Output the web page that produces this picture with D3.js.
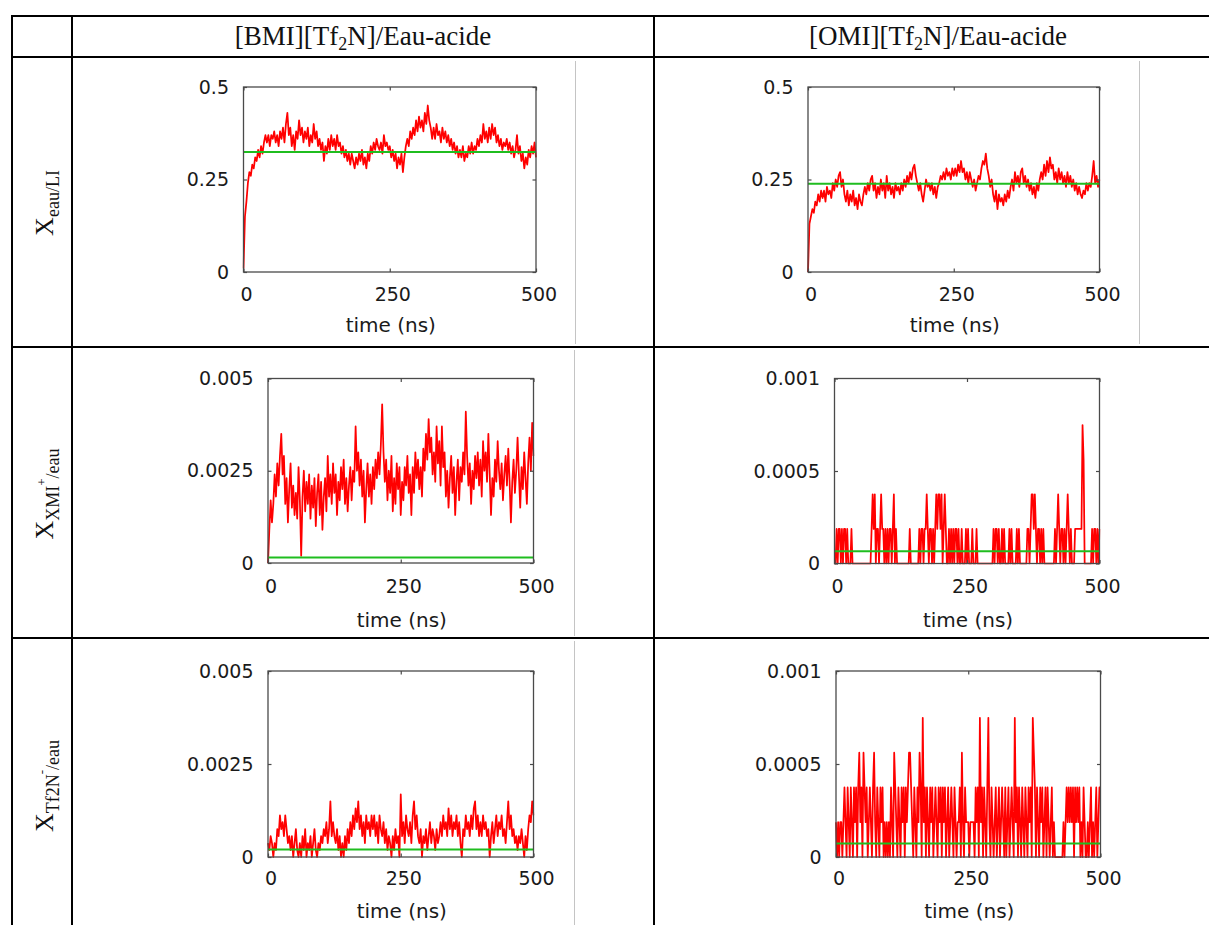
<!DOCTYPE html>
<html><head><meta charset="utf-8">
<script src="https://cdn.jsdelivr.net/npm/d3@7"></script>
<style>html,body{margin:0;padding:0;background:#fff}svg{display:block}</style>
</head><body>
<svg id="c" width="1209" height="925"></svg>
<script>
// ---------- DATA ----------
const columnHeaders = [["[BMI][Tf","2","N]/Eau-acide"],["[OMI][Tf","2","N]/Eau-acide"]];
const rowLabels = [
  [["X","main"],["eau/LI","sub"]],
  [["X","main"],["XMI","sub"],["+","sup"],["/eau","sub"]],
  [["X","main"],["Tf2N","sub"],["-","sup"],["/eau","sub"]]
];
const xTicks = [0,250,500];
const xTickLabels = ["0","250","500"];
const yTicksWater = [0,0.25,0.5];
const yTickLabelsWater = ["0","0.25","0.5"];
const yTicksBMIion = [0,0.0025,0.005];
const yTickLabelsBMIion = ["0","0.0025","0.005"];
const yTicksOMIion = [0,0.0005,0.001];
const yTickLabelsOMIion = ["0","0.0005","0.001"];
const axisTitle = "time (ns)";
const timeMax = 500;

// mean values (green lines)
const meanValues = [0.324, 0.2386, 0.00015, 0.000066, 0.0002, 0.000072];

// X eau/LI, [BMI][Tf2N] (sampled every 2.5 ns)
const bmiWaterLI = [0.01,0.15,0.19,0.24,0.27,0.26,0.29,0.28,0.31,0.30,
0.33,0.31,0.34,0.32,0.35,0.37,0.35,0.37,0.34,0.37,
0.36,0.38,0.35,0.37,0.34,0.38,0.36,0.39,0.35,0.40,
0.43,0.37,0.39,0.34,0.37,0.33,0.38,0.36,0.41,0.37,
0.39,0.35,0.38,0.36,0.39,0.34,0.37,0.35,0.40,0.36,
0.38,0.34,0.36,0.33,0.35,0.30,0.34,0.32,0.36,0.33,
0.37,0.34,0.36,0.33,0.37,0.34,0.35,0.32,0.34,0.31,
0.33,0.30,0.32,0.29,0.32,0.30,0.28,0.31,0.29,0.32,
0.30,0.33,0.29,0.31,0.28,0.32,0.30,0.34,0.32,0.35,
0.33,0.36,0.34,0.33,0.35,0.32,0.37,0.34,0.35,0.33,
0.34,0.31,0.33,0.30,0.32,0.28,0.31,0.29,0.32,0.27,
0.31,0.34,0.36,0.34,0.38,0.36,0.39,0.37,0.41,0.38,
0.42,0.39,0.41,0.38,0.43,0.40,0.45,0.41,0.39,0.36,
0.39,0.36,0.40,0.37,0.38,0.35,0.39,0.36,0.38,0.35,
0.37,0.34,0.36,0.33,0.35,0.32,0.34,0.31,0.33,0.31,
0.34,0.30,0.32,0.31,0.34,0.32,0.35,0.32,0.34,0.33,
0.36,0.34,0.37,0.35,0.40,0.36,0.38,0.35,0.39,0.36,
0.40,0.37,0.39,0.35,0.37,0.34,0.36,0.33,0.35,0.34,
0.36,0.33,0.35,0.32,0.34,0.31,0.33,0.37,0.32,0.34,
0.30,0.32,0.28,0.31,0.29,0.33,0.31,0.34,0.32,0.35,
0.31];

// X eau/LI, [OMI][Tf2N] (every 2.5 ns)
const omiWaterLI = [0.00,0.13,0.15,0.17,0.16,0.19,0.18,0.21,0.19,0.22,
0.20,0.22,0.19,0.23,0.21,0.22,0.20,0.24,0.22,0.25,
0.23,0.26,0.27,0.23,0.25,0.21,0.19,0.22,0.18,0.21,
0.19,0.22,0.18,0.20,0.17,0.21,0.19,0.18,0.21,0.23,
0.21,0.24,0.22,0.25,0.26,0.22,0.24,0.20,0.23,0.21,
0.25,0.22,0.24,0.20,0.26,0.22,0.24,0.21,0.23,0.20,
0.24,0.22,0.23,0.21,0.24,0.22,0.25,0.23,0.26,0.24,
0.27,0.25,0.28,0.29,0.26,0.24,0.22,0.24,0.21,0.19,
0.22,0.25,0.23,0.24,0.22,0.24,0.21,0.23,0.20,0.23,
0.24,0.26,0.25,0.27,0.25,0.28,0.26,0.27,0.25,0.28,
0.26,0.28,0.26,0.29,0.27,0.30,0.27,0.28,0.25,0.27,
0.24,0.27,0.25,0.23,0.25,0.22,0.24,0.26,0.25,0.28,
0.30,0.29,0.32,0.28,0.26,0.23,0.25,0.21,0.19,0.22,
0.17,0.21,0.19,0.20,0.18,0.21,0.19,0.22,0.20,0.23,
0.25,0.22,0.27,0.24,0.26,0.23,0.27,0.28,0.24,0.26,
0.23,0.25,0.22,0.24,0.21,0.23,0.20,0.24,0.22,0.25,
0.27,0.25,0.29,0.26,0.30,0.27,0.31,0.28,0.29,0.25,
0.27,0.24,0.28,0.25,0.27,0.24,0.26,0.23,0.27,0.24,
0.26,0.23,0.25,0.22,0.24,0.21,0.23,0.21,0.20,0.22,
0.21,0.24,0.22,0.24,0.23,0.26,0.30,0.24,0.26,0.23,
0.25];

// X XMI+/eau, [BMI][Tf2N] (every 2.5 ns)
const bmiCationWater = [0,0.0009,0.0017,0.0011,0.0016,0.0024,0.0018,0.0027,0.0021,0.0029,
0.0035,0.0024,0.0029,0.0016,0.0023,0.0011,0.0020,0.0027,0.0015,0.0021,
0.0013,0.0019,0.0012,0.0026,0.0017,0.0002,0.0018,0.0025,0.0014,0.0022,
0.0016,0.0024,0.0012,0.0021,0.0015,0.0023,0.0010,0.0019,0.0024,0.0013,
0.0022,0.0009,0.0018,0.0023,0.0014,0.0029,0.0018,0.0024,0.0016,0.0027,
0.0019,0.0024,0.0013,0.0022,0.0017,0.0026,0.0020,0.0028,0.0016,0.0023,
0.0014,0.0021,0.0026,0.0017,0.0025,0.0022,0.0037,0.0025,0.0030,0.0021,
0.0028,0.0018,0.0025,0.0011,0.0020,0.0027,0.0018,0.0024,0.0016,0.0026,
0.0020,0.0028,0.0023,0.0030,0.0024,0.0032,0.0043,0.0030,0.0022,0.0028,
0.0017,0.0025,0.0019,0.0029,0.0014,0.0023,0.0016,0.0027,0.0020,0.0026,
0.0013,0.0022,0.0017,0.0026,0.0021,0.0029,0.0019,0.0024,0.0013,0.0026,
0.0019,0.0030,0.0023,0.0028,0.0020,0.0026,0.0018,0.0031,0.0025,0.0035,
0.0028,0.0039,0.0030,0.0034,0.0024,0.0030,0.0022,0.0037,0.0027,0.0033,
0.0021,0.0037,0.0026,0.0030,0.0018,0.0025,0.0015,0.0023,0.0029,0.0019,
0.0026,0.0013,0.0022,0.0028,0.0017,0.0026,0.0022,0.0030,0.0024,0.0041,
0.0029,0.0021,0.0027,0.0016,0.0025,0.0020,0.0029,0.0023,0.0030,0.0021,
0.0028,0.0018,0.0033,0.0025,0.0030,0.0022,0.0035,0.0024,0.0013,0.0023,
0.0018,0.0028,0.0022,0.0033,0.0025,0.0020,0.0027,0.0017,0.0024,0.0029,
0.0021,0.0031,0.0022,0.0011,0.0022,0.0028,0.0019,0.0025,0.0034,0.0024,
0.0015,0.0026,0.0020,0.0030,0.0023,0.0016,0.0027,0.0034,0.0025,0.0038,
0.0029];

// discrete (ion count) series: level index, one level = ionLevelStep
const ionLevelStep = 0.000187;

// X XMI+/eau, [OMI][Tf2N] (every 2 ns), in levels
const omiCationLevels = [0,0,1,0,1,1,0,1,0,1,
1,0,1,0,0,0,1,0,0,0,
0,0,0,0,0,0,0,0,0,0,
0,0,0,0,0,1,2,1,2,0,
1,1,0,1,2,1,1,0,1,0,
1,0,1,1,0,1,2,0,1,0,
0,0,0,0,0,0,0,0,0,0,
0,1,0,0,0,0,0,0,0,0,
1,0,1,1,0,1,1,2,1,0,
1,1,0,1,0,1,2,1,2,2,
1,2,0,1,2,1,0,0,1,0,
1,0,1,0,1,1,0,1,0,0,
1,0,0,0,1,0,1,0,0,0,
1,0,0,0,1,0,0,0,0,0,
0,0,0,0,0,0,0,0,0,0,
1,0,1,1,0,1,0,0,1,0,
1,0,0,0,0,1,0,1,0,0,
0,0,1,0,1,0,0,0,0,0,
0,0,1,1,0,1,2,2,1,2,
1,0,1,1,0,1,0,1,0,0,
0,0,0,0,0,0,0,0,1,0,
1,2,1,0,1,1,0,1,0,1,
2,1,0,1,0,0,0,1,1,1,
1,1,1,1,4,3,0,0,0,0,
0,0,0,1,0,1,1,0,1,0,
1];

// X Tf2N-/eau, [BMI][Tf2N] (every 2.5 ns), in levels
const bmiAnionLevels = [2,1,3,2,0,2,1,4,3,6,
4,5,3,6,4,2,3,1,3,0,
2,4,1,0,2,0,3,1,4,0,
2,1,3,0,2,4,1,0,2,1,
3,2,4,3,5,2,4,8,3,5,
3,2,4,1,3,0,2,0,3,1,
4,2,5,3,6,4,7,5,8,4,
6,3,5,2,6,4,5,3,6,4,
6,3,5,2,6,4,3,5,2,4,
1,3,2,0,3,1,4,2,3,0,
9,3,5,2,6,4,3,5,2,6,
8,4,6,3,2,4,0,3,2,4,
1,3,5,2,4,3,1,4,2,3,
5,3,6,4,5,3,7,4,6,3,
5,4,6,3,5,2,0,4,3,6,
4,5,3,6,4,7,8,4,6,3,
5,3,6,4,5,3,4,0,3,5,
2,4,6,3,5,4,6,3,4,2,
5,8,4,6,3,4,2,3,1,3,
2,4,2,0,3,1,4,6,5,8,
6];

// X Tf2N-/eau, [OMI][Tf2N] (every 2 ns), in levels
const omiAnionLevels = [1,0,1,0,1,1,0,1,2,1,
0,2,1,0,2,1,0,2,1,2,
0,2,3,1,2,0,3,2,1,2,
0,1,2,1,0,2,3,1,0,2,
1,0,2,1,2,0,1,0,1,0,
1,0,2,1,0,3,2,1,0,2,
1,0,2,1,2,0,2,1,2,3,
3,2,1,0,2,1,0,2,1,3,
2,0,4,1,2,0,2,1,0,2,
1,2,0,1,2,1,0,2,1,2,
0,2,1,2,0,1,2,0,1,2,
1,0,2,1,0,1,1,2,0,3,
1,0,2,1,1,1,0,1,1,1,
1,0,2,1,2,0,4,1,2,0,
2,1,0,2,4,1,0,2,1,0,
1,2,0,1,2,0,1,2,1,0,
2,0,1,2,0,1,2,1,0,4,
1,2,0,2,1,0,2,1,0,2,
1,0,2,1,2,0,4,3,2,0,
2,1,0,2,1,2,0,1,2,0,
2,1,0,1,2,0,1,0,0,0,
0,0,0,0,0,1,0,1,2,1,
2,1,2,1,2,0,2,1,2,1,
2,0,1,0,2,1,0,0,1,0,
1,2,0,1,0,1,2,0,1,2,
2];

// ---------- LAYOUT ----------
const W = 1209, H = 925;
const svg = d3.select("#c");
const serif = "'Liberation Serif','Times New Roman',serif";
const sans = "'DejaVu Sans',sans-serif";
const textColor = "#1a1a1a";

// table grid
const tableX = [12, 72, 654];
const tableY = [16, 57, 347, 638];
const grid = svg.append("g").attr("stroke","#000").attr("stroke-width",2);
tableY.forEach(y => grid.append("line").attr("x1",11).attr("x2",W+2).attr("y1",y).attr("y2",y));
tableX.forEach(x => grid.append("line").attr("x1",x).attr("x2",x).attr("y1",15).attr("y2",H+2));

// light grey image edges
const imgEdges = [[575.5,61,344],[1139.5,61,344],[574.5,350,636],[574.5,641,925]];
svg.append("g").attr("stroke","#c4c4c4").attr("stroke-width",1)
  .selectAll("line").data(imgEdges).join("line")
  .attr("x1",d=>d[0]).attr("x2",d=>d[0]).attr("y1",d=>d[1]).attr("y2",d=>d[2]);

// column headers
const headerCenters = [363, 938];
columnHeaders.forEach((parts,i) => {
  const t = svg.append("text").attr("x",headerCenters[i]).attr("y",45)
    .attr("text-anchor","middle").attr("font-family",serif).attr("font-size",27).attr("fill","#111");
  t.append("tspan").text(parts[0]);
  t.append("tspan").attr("font-size",18).attr("dy",5).text(parts[1]);
  t.append("tspan").attr("dy",-5).text(parts[2]);
});

// row labels (rotated)
const rowCenters = [203, 494, 786];
rowLabels.forEach((parts,i) => {
  const t = svg.append("text")
    .attr("transform",`translate(53,${rowCenters[i]}) rotate(-90)`)
    .attr("text-anchor","middle").attr("font-family",serif).attr("fill","#111");
  let level = 0;
  parts.forEach(([s,kind]) => {
    const target = kind==="main"?0:(kind==="sub"?6:-7);
    const ts = t.append("tspan").text(s)
      .attr("font-size", kind==="main"?26:(kind==="sub"?18:13));
    if (target!==level) { ts.attr("dy", target-level); level = target; }
  });
});

// ---------- PANELS ----------
const panels = [
  {values: bmiWaterLI, mean: meanValues[0], yDomain:[0,0.5], yTicks:yTicksWater, yLabels:yTickLabelsWater,
   box:{l:243.5,r:536,t:87,b:272}, xLabelY:301, titleY:332},
  {values: omiWaterLI, mean: meanValues[1], yDomain:[0,0.5], yTicks:yTicksWater, yLabels:yTickLabelsWater,
   box:{l:808,r:1099.5,t:87,b:272}, xLabelY:301, titleY:332},
  {values: bmiCationWater, mean: meanValues[2], yDomain:[0,0.005], yTicks:yTicksBMIion, yLabels:yTickLabelsBMIion,
   box:{l:268,r:533.5,t:378.5,b:563}, xLabelY:593, titleY:627},
  {values: omiCationLevels.map(v=>v*ionLevelStep), mean: meanValues[3], yDomain:[0,0.001], yTicks:yTicksOMIion, yLabels:yTickLabelsOMIion,
   box:{l:834.5,r:1099.5,t:378.5,b:563.5}, xLabelY:593, titleY:627},
  {values: bmiAnionLevels.map(v=>v*ionLevelStep), mean: meanValues[4], yDomain:[0,0.005], yTicks:yTicksBMIion, yLabels:yTickLabelsBMIion,
   box:{l:268,r:533.5,t:671,b:857}, xLabelY:885, titleY:918},
  {values: omiAnionLevels.map(v=>v*ionLevelStep), mean: meanValues[5], yDomain:[0,0.001], yTicks:yTicksOMIion, yLabels:yTickLabelsOMIion,
   box:{l:836,r:1100.5,t:671,b:857}, xLabelY:885, titleY:918}
];

const frameColor = "#4a4a4a";
panels.forEach(p => {
  const b = p.box;
  const x = d3.scaleLinear().domain([0,timeMax]).range([b.l,b.r]);
  const y = d3.scaleLinear().domain(p.yDomain).range([b.b,b.t]);
  const n = p.values.length;
  const pts = p.values.map((v,i)=>[i*timeMax/(n-1), v]);
  const g = svg.append("g");

  const clipId = "clip"+Math.round(b.l)+"_"+Math.round(b.t);
  g.append("clipPath").attr("id",clipId).append("rect")
    .attr("x",b.l-1).attr("y",b.t).attr("width",b.r-b.l+2).attr("height",b.b-b.t+1);

  // data line
  g.append("path").datum(pts).attr("clip-path",`url(#${clipId})`)
    .attr("fill","none").attr("stroke","#ff0000").attr("stroke-width",1.75).attr("stroke-linejoin","round")
    .attr("d", d3.line().x(d=>x(d[0])).y(d=>y(d[1])));
  // mean line
  g.append("path").datum([[0,p.mean],[timeMax,p.mean]])
    .attr("fill","none").attr("stroke","#1fbd1f").attr("stroke-width",2)
    .attr("d", d3.line().x(d=>x(d[0])).y(d=>y(d[1])));

  // frame
  g.append("rect").attr("x",b.l).attr("y",b.t).attr("width",b.r-b.l).attr("height",b.b-b.t)
    .attr("fill","none").attr("stroke",frameColor).attr("stroke-width",1.3);

  const style = sel => {
    sel.select(".domain").remove();
    sel.selectAll(".tick line").attr("stroke",frameColor).attr("stroke-width",1.2);
    sel.attr("font-family",sans).attr("font-size",19);
    sel.selectAll(".tick text").attr("fill",textColor);
  };
  // axes
  g.append("g").attr("transform",`translate(${b.l},0)`)
    .call(d3.axisLeft(y).tickValues(p.yTicks).tickFormat((d,i)=>p.yLabels[i]).tickSize(-3.5).tickPadding(14.5))
    .call(style);
  g.append("g").attr("transform",`translate(${b.r},0)`)
    .call(d3.axisRight(y).tickValues(p.yTicks).tickFormat("").tickSize(-3.5)).call(style);
  const gb = g.append("g").attr("transform",`translate(0,${b.b})`)
    .call(d3.axisBottom(x).tickValues(xTicks).tickFormat((d,i)=>xTickLabels[i]).tickSize(-3.5).tickPadding(0))
    .call(style);
  gb.selectAll(".tick text").attr("y", p.xLabelY - b.b).attr("dy",0).attr("dx",2.5);
  g.append("g").attr("transform",`translate(0,${b.t})`)
    .call(d3.axisTop(x).tickValues(xTicks).tickFormat("").tickSize(-3.5)).call(style);

  g.append("text").attr("x",(b.l+b.r)/2+1).attr("y",p.titleY).attr("text-anchor","middle")
    .attr("font-family",sans).attr("font-size",20).attr("fill",textColor).text(axisTitle);
});
</script>
</body></html>
